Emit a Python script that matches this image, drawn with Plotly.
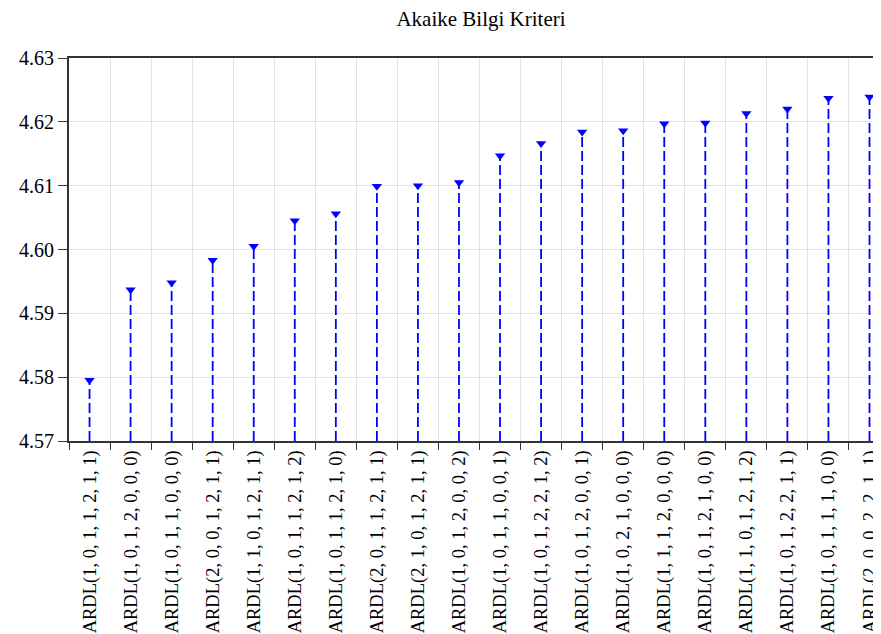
import plotly.graph_objects as go

models = [
    "ARDL(1, 0, 1, 1, 2, 1, 1)", "ARDL(1, 0, 1, 2, 0, 0, 0)", "ARDL(1, 0, 1, 1, 0, 0, 0)",
    "ARDL(2, 0, 0, 1, 2, 1, 1)", "ARDL(1, 1, 0, 1, 2, 1, 1)", "ARDL(1, 0, 1, 1, 2, 1, 2)",
    "ARDL(1, 0, 1, 1, 2, 1, 0)", "ARDL(2, 0, 1, 1, 2, 1, 1)", "ARDL(2, 1, 0, 1, 2, 1, 1)",
    "ARDL(1, 0, 1, 2, 0, 0, 2)", "ARDL(1, 0, 1, 1, 0, 0, 1)", "ARDL(1, 0, 1, 2, 2, 1, 2)",
    "ARDL(1, 0, 1, 2, 0, 0, 1)", "ARDL(1, 0, 2, 1, 0, 0, 0)", "ARDL(1, 1, 1, 2, 0, 0, 0)",
    "ARDL(1, 0, 1, 2, 1, 0, 0)", "ARDL(1, 1, 0, 1, 2, 1, 2)", "ARDL(1, 0, 1, 2, 2, 1, 1)",
    "ARDL(1, 0, 1, 1, 1, 0, 0)", "ARDL(2, 0, 0, 2, 2, 1, 1)",
]
aic = [4.5795, 4.5937, 4.5948, 4.5983, 4.6005, 4.6045, 4.6056, 4.6099, 4.6100, 4.6105,
       4.6147, 4.6166, 4.6184, 4.6186, 4.6197, 4.6198, 4.6213, 4.6220, 4.6237, 4.6239]
y_base = 4.57
y_ticks = [4.57, 4.58, 4.59, 4.60, 4.61, 4.62, 4.63]
title_text = "Akaike Bilgi Kriteri"

stem_x, stem_y = [], []
for m, v in zip(models, aic):
    stem_x += [m, m, None]
    stem_y += [y_base, v, None]

fig = go.Figure()
fig.add_trace(go.Scatter(x=stem_x, y=stem_y, mode="lines",
                         line=dict(color="#0000ff", width=1.8, dash="10px,4px"),
                         hoverinfo="skip", showlegend=False))
fig.add_trace(go.Scatter(x=models, y=aic, mode="markers",
                         marker=dict(symbol="triangle-down", size=9, color="#0000ff"),
                         showlegend=False))

W, H = 873, 626  # page body has an 8px default margin
font_serif = "Liberation Serif, Times New Roman, serif"
fig.update_layout(
    width=W, height=H,
    margin=dict(l=61, r=0, t=50, b=H - 433, autoexpand=False),
    paper_bgcolor="white", plot_bgcolor="white",
    title=dict(text=title_text, x=473 / W, xanchor="center", y=1 - 3 / H, yanchor="top",
               xref="container", yref="container", pad=dict(t=0, b=0),
               font=dict(family=font_serif, size=21, color="black")),
    font=dict(family=font_serif, color="black"),
)
fig.update_xaxes(
    type="category", categoryorder="array", categoryarray=models,
    range=[-0.5, 19.28], tickson="boundaries", automargin=False,
    ticks="outside", ticklen=7, tickcolor="#333", tickwidth=1,
    tickangle=-90, tickfont=dict(family=font_serif, size=18.5, color="black"),
    showgrid=True, gridcolor="#e3e3e3", gridwidth=1,
    showline=True, linecolor="#333", linewidth=2, mirror=True,
    zeroline=False,
)
fig.update_yaxes(
    range=[4.57, 4.63], tickvals=y_ticks, ticktext=[f"{t:.2f}" for t in y_ticks],
    ticks="outside", ticklen=9, tickcolor="#333", tickwidth=1, automargin=False,
    tickfont=dict(family=font_serif, size=20, color="black"),
    showgrid=True, gridcolor="#e3e3e3", gridwidth=1,
    showline=True, linecolor="#333", linewidth=2, mirror=True,
    zeroline=False,
)
fig.write_html("out.html")
